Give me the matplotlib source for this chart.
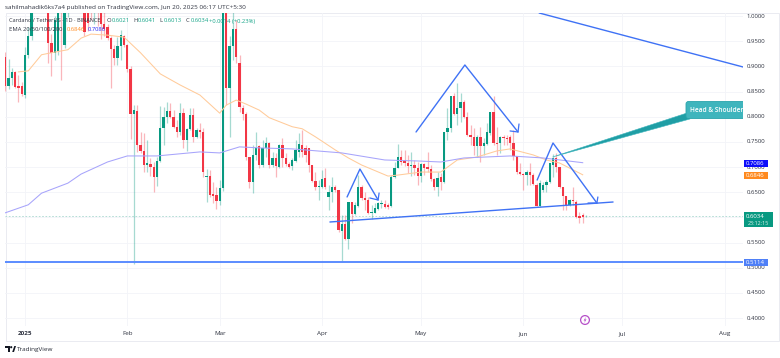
import numpy as np
import matplotlib
matplotlib.use("Agg")
import matplotlib.pyplot as plt
from matplotlib.patches import Rectangle, Polygon, FancyBboxPatch, Circle

plt.rcParams['font.family'] = ['Open Sans', 'DejaVu Sans']

# ---------- data (candle index 0 = 26 Dec 2024) ----------
opens = [.919,.861,.877,.889,.861,.861,.843,.923,.960,1.015,
 1.04,1.03,1.05,1.03,.947,.927,.931,1.05,.943,1.02,
 1.04,1.05,1.03,1.04,1.02,1.01,1.02,1.01,1.03,1.015,
 .985,.978,.956,.935,.917,.941,.960,.943,.895,.805,
 .811,.744,.732,.704,.706,.700,.680,.712,.778,.800,
 .811,.800,.780,.770,.807,.754,.776,.803,.760,.774,
 .770,.680,.682,.647,.645,.633,.658,1.05,.857,.941,
 .974,.907,.817,.805,.720,.670,.724,.742,.704,.738,
 .748,.704,.718,.700,.744,.718,.706,.702,.712,.730,
 .744,.738,.738,.704,.672,.660,.660,.678,.641,.651,
 .660,.654,.573,.587,.557,.631,.607,.623,.660,.639,
 .635,.609,.609,.617,.627,.627,.625,.623,.680,.698,
 .720,.714,.708,.702,.704,.698,.682,.706,.700,.696,
 .676,.660,.680,.670,.770,.778,.841,.805,.817,.829,
 .800,.764,.760,.742,.760,.742,.746,.768,.809,.748,
 .748,.760,.758,.760,.748,.722,.690,.686,.684,.690,
 .684,.664,.623,.654,.664,.670,.704,.718,.700,.660,
 .642,.625,.635,.631,.603,.605,.6021]
highs = [.929,.915,.897,.891,.883,.869,.939,.978,1.03,1.06,
 1.08,1.07,1.09,1.05,.965,1.0,1.04,1.07,1.04,1.05,
 1.07,1.08,1.06,1.07,1.05,1.04,1.05,1.04,1.05,1.04,
 1.01,.984,.960,.943,.958,.972,.962,.945,.901,.823,
 .823,.770,.768,.754,.718,.710,.720,.821,.819,.829,
 .827,.813,.794,.827,.817,.778,.817,.817,.778,.788,
 .778,.696,.694,.670,.660,.674,1.12,1.09,.960,1.01,
 .992,.923,.823,.809,.720,.744,.770,.744,.754,.760,
 .750,.730,.728,.746,.758,.728,.710,.718,.754,.768,
 .774,.744,.738,.704,.690,.674,.694,.698,.664,.680,
 .664,.654,.605,.605,.631,.631,.631,.684,.664,.650,
 .641,.625,.629,.631,.635,.635,.629,.684,.710,.746,
 .734,.734,.724,.730,.714,.710,.708,.708,.730,.704,
 .678,.690,.688,.770,.817,.841,.847,.867,.847,.833,
 .809,.784,.778,.764,.780,.758,.788,.809,.841,.780,
 .762,.764,.764,.764,.774,.722,.708,.688,.694,.708,
 .688,.668,.674,.670,.674,.708,.726,.728,.700,.660,
 .642,.637,.660,.635,.611,.609,.6041]
lows = [.851,.855,.863,.857,.829,.841,.837,.917,.952,1.01,
 1.02,1.015,1.02,.907,.881,.913,.923,.873,.937,.998,
 1.02,1.03,1.01,1.015,.96,.97,.992,.985,.98,.955,
 .96,.952,.857,.903,.903,.913,.939,.889,.755,.507,
 .730,.728,.690,.690,.682,.650,.662,.710,.744,.788,
 .798,.778,.760,.764,.738,.732,.774,.750,.758,.758,
 .680,.631,.641,.629,.617,.625,.652,.823,.760,.913,
 .907,.809,.794,.714,.658,.648,.714,.698,.700,.720,
 .698,.700,.680,.698,.700,.702,.698,.694,.710,.720,
 .720,.710,.690,.670,.654,.635,.658,.656,.615,.631,
 .650,.571,.511,.555,.537,.589,.605,.621,.635,.615,
 .607,.597,.609,.615,.619,.619,.617,.621,.678,.698,
 .704,.702,.688,.682,.684,.664,.670,.684,.690,.672,
 .654,.642,.654,.668,.754,.770,.803,.784,.790,.798,
 .762,.744,.724,.720,.710,.724,.744,.764,.744,.724,
 .728,.744,.744,.734,.714,.686,.684,.654,.664,.664,
 .664,.622,.621,.650,.650,.668,.680,.690,.658,.615,
 .615,.623,.625,.599,.589,.589,.6013]
closes = [.861,.877,.889,.859,.857,.845,.923,.960,1.015,1.04,
 1.03,1.05,1.03,.947,.927,.992,1.02,1.01,1.02,1.04,
 1.05,1.03,1.04,1.03,.968,.986,1.01,1.03,1.015,.985,
 .975,.956,.935,.917,.941,.962,.943,.895,.805,.813,
 .744,.732,.704,.708,.700,.680,.712,.778,.800,.811,
 .800,.780,.770,.807,.754,.776,.803,.760,.774,.770,
 .690,.682,.645,.643,.633,.658,1.05,.857,.941,.974,
 .919,.819,.805,.720,.670,.724,.738,.704,.738,.748,
 .704,.718,.702,.744,.718,.706,.700,.714,.734,.746,
 .730,.724,.704,.672,.660,.662,.676,.660,.651,.660,
 .654,.575,.587,.557,.631,.607,.625,.660,.639,.635,
 .609,.611,.619,.629,.629,.621,.621,.680,.698,.720,
 .710,.708,.702,.704,.698,.682,.706,.698,.696,.676,
 .660,.678,.670,.770,.778,.841,.805,.817,.829,.800,
 .764,.760,.742,.760,.742,.748,.770,.809,.748,.746,
 .760,.758,.756,.748,.722,.690,.686,.684,.690,.684,
 .666,.623,.668,.664,.670,.708,.718,.700,.660,.642,
 .625,.635,.633,.601,.599,.601,.6034]

ema20_idx = [4,7,11,14,19,23,26,31,36,41,47,53,59,65,67,70,73,77,80,87,90,94,100,104,108,116,119,126,132,137,143,149,153,160,164,168,175]
ema20_val = [.889,.891,.923,.927,.933,.956,.964,.962,.958,.927,.885,.863,.843,.807,.823,.833,.825,.813,.798,.780,.776,.760,.734,.718,.704,.682,.684,.690,.690,.714,.720,.732,.736,.724,.714,.708,.6846]
ema200_idx = [0,7,11,19,23,31,37,46,59,65,71,77,87,102,115,125,132,139,153,163,175]
ema200_val = [.609,.625,.648,.668,.686,.710,.722,.722,.730,.728,.740,.738,.736,.728,.714,.712,.710,.718,.722,.718,.7086]

month_idx = [6,37,65,96,126,157,187,218]
month_labels = ['2025','Feb','Mar','Apr','May','Jun','Jul','Aug']
price_ticks = [1.0,.95,.9,.85,.8,.75,.7,.65,.6,.55,.5,.45,.4]

support_idx, support_val = [98.4,184.2], [.5908,.6305]
ls_idx, ls_val = [103.6,107.5,113], [.6405,.696,.6345]
ls_head_idx, ls_head_val = [110.5,113,113.3], [.6385,.6345,.6484]
head_idx, head_val = [124.5,139.3,155.4], [.7696,.9027,.7696]
head_head_idx, head_head_val = [153,155.4,155.7], [.7716,.7696,.7855]
rs_idx, rs_val = [161.2,166,179.3], [.6742,.7477,.6285]
rs_head_idx, rs_head_val = [176.6,179.3,179.6], [.6285,.6285,.6405]
upper_idx, upper_val = [161.8,223.6], [1.006,.8987]
level_val = .5114
last_price = .6034

GREEN, RED = '#089981', '#F23645'
BLUE = '#3f72f5'
TEXT = '#2f3340'
GRID = '#f3f4f8'
TEAL = '#3fb5bd'
TEAL_DK = '#2aa4ab'

W, H = 780, 358
fig = plt.figure(figsize=(W/100, H/100), dpi=100, facecolor='white')

ov0 = fig.add_axes([0,0,1,1], zorder=0); ov0.set_xlim(0,W); ov0.set_ylim(H,0); ov0.axis('off')
ov0.add_patch(Rectangle((5.5,13),773,327.7,fill=False,ec='#e6e8ef',lw=0.6))

L,R,T,B = 5.0,743.0,13.0,326.0
ax = fig.add_axes([L/W,1-B/H,(R-L)/W,(B-T)/H], zorder=1)
ax.patch.set_alpha(0)
px_x = lambda x:(x-5.2)/3.3
px_y = lambda y:1-(y-16)/503.4
ax.set_xlim(px_x(L),px_x(R)); ax.set_ylim(px_y(B),px_y(T))
for s in ax.spines.values(): s.set_visible(False)
ax.set_xticks(month_idx); ax.set_yticks(price_ticks)
ax.tick_params(length=0,labelbottom=False,labelleft=False)
ax.grid(True,color=GRID,lw=0.6); ax.set_axisbelow(True)

o,h,l,c = map(np.array,(opens,highs,lows,closes))
k = np.arange(len(o))
cols = np.where(c>=o,GREEN,RED)
ax.vlines(k,l,h,colors=cols,lw=0.9,alpha=0.36,zorder=3)
ax.bar(k,np.maximum(np.abs(c-o),.0012),bottom=np.minimum(o,c),width=0.7,color=cols,lw=0,zorder=4)

ax.plot(ema20_idx,ema20_val,color='#ffcb9a',lw=0.75,zorder=5)
ax.plot(ema200_idx,ema200_val,color='#a7a4fb',lw=0.75,zorder=5)
ax.axhline(last_price,color='#a8d8cf',lw=0.6,ls=(0,(2,2)),zorder=2)
ax.axhline(level_val,color='#5b8cff',lw=1.4,zorder=6)
for xs,ys,lw in [(support_idx,support_val,1.0),(ls_idx,ls_val,1.0),(ls_head_idx,ls_head_val,.9),
                 (head_idx,head_val,1.0),(head_head_idx,head_head_val,.9),
                 (rs_idx,rs_val,1.0),(rs_head_idx,rs_head_val,.9),(upper_idx,upper_val,1.0)]:
    ax.plot(xs,ys,color=BLUE,lw=lw,zorder=6,solid_capstyle='round')

ov = fig.add_axes([0,0,1,1], zorder=2); ov.set_xlim(0,W); ov.set_ylim(H,0); ov.axis('off'); ov.patch.set_alpha(0)
clip = Rectangle((0,0),743,H,transform=ov.transData)

ov.add_patch(Polygon([(552.5,157),(687,113),(690,119)],closed=True,fc='#1f9ea5',ec='#3fb5bd',lw=0.4,zorder=3))
box = FancyBboxPatch((686,101.5),72,17,boxstyle='round,pad=0,rounding_size=2.5',fc=TEAL,ec=TEAL_DK,lw=0.6,zorder=4)
ov.add_patch(box); box.set_clip_path(clip)
t = ov.text(689.5,110,'Head & Shoulder',color='white',fontsize=4.7,va='center',ha='left',fontweight='semibold',zorder=5)
t.set_clip_path(clip)

for p in price_ticks:
    y = 16+(1-p)*503.4
    ov.text(756,y,f'{p:.4f}',fontsize=4.3,color=TEXT,va='center',ha='center',zorder=1)
def badge(y0,h_,w_,col):
    ov.add_patch(Rectangle((743.5,y0),w_,h_,fc=col,ec='none',zorder=3))
badge(159.5,7.5,24,'#0d0dfa'); ov.text(755.5,163.3,'0.7086',color='white',fontsize=4.3,ha='center',va='center',zorder=4)
badge(171.5,7.5,24,'#ff8a1f'); ov.text(755.5,175.3,'0.6846',color='white',fontsize=4.3,ha='center',va='center',zorder=4)
badge(212,15,29.5,'#089981'); ov.text(755.5,216,'0.6034',color='white',fontsize=4.3,ha='center',va='center',zorder=4)
ov.text(758,223.3,'23:12:15',color='#d9f0ea',fontsize=3.9,ha='center',va='center',zorder=4)
badge(258.5,7.5,24,'#4f80f7'); ov.text(755.5,262.3,'0.5114',color='white',fontsize=4.3,ha='center',va='center',zorder=4)

for i,lab in zip(month_idx,month_labels):
    ov.text(5.2+3.3*i,333.3,lab,fontsize=4.5,color=TEXT,ha='center',va='center',
            fontweight='bold' if lab=='2025' else 'normal')

ov.text(5,7.6,'sahilmahadik6ks7a4 published on TradingView.com, Jun 20, 2025 06:17 UTC+5:30',
        fontsize=4.55,color=TEXT,va='center',ha='left')
ov.text(9,21,'Cardano / TetherUS · 1D · BINANCE',fontsize=4.1,color=TEXT,va='center',ha='left')
VAL='#17a589'
for x,a,b in [(107,'O','0.6021'),(133,'H','0.6041'),(159,'L','0.6013'),(186,'C','0.6034')]:
    ov.text(x,21,a,fontsize=4.2,color=TEXT,va='center',ha='left')
    ov.text(x+4.4,21,b,fontsize=4.2,color=VAL,va='center',ha='left')
ov.text(209,21,'+0.0014 (+0.23%)',fontsize=4.2,color=VAL,va='center',ha='left')
ov.text(9,29.3,'EMA 20/50/100/200',fontsize=4.2,color=TEXT,va='center',ha='left')
ov.text(67,29.3,'0.6846',fontsize=4.2,color='#ff8a1f',va='center',ha='left')
ov.text(88,29.3,'0.7086',fontsize=4.2,color='#2a2af5',va='center',ha='left')

ov.add_patch(Circle((585,320),4.4,fc='white',ec='#b64fc8',lw=0.9,zorder=3))
ov.add_patch(Polygon([(585.9,316.8),(583.6,320.6),(585,320.6),(584.2,323.2),(586.5,319.4),(585.1,319.4)],fc='#b64fc8',ec='none',zorder=4))

ov.add_patch(Polygon([(5,346),(10,346),(10,352),(7.6,352),(7.6,348.2),(5,348.2)],fc='#131722',ec='none'))
ov.add_patch(Circle((11.2,347.2),1.1,fc='#131722',ec='none'))
ov.add_patch(Polygon([(12.2,352),(14.3,346),(16,346),(14,352)],fc='#131722',ec='none'))
ov.text(17,349.2,'TradingView',fontsize=4.6,color='#2a2e39',va='center',ha='left')

fig.savefig('out.png',dpi=100)
